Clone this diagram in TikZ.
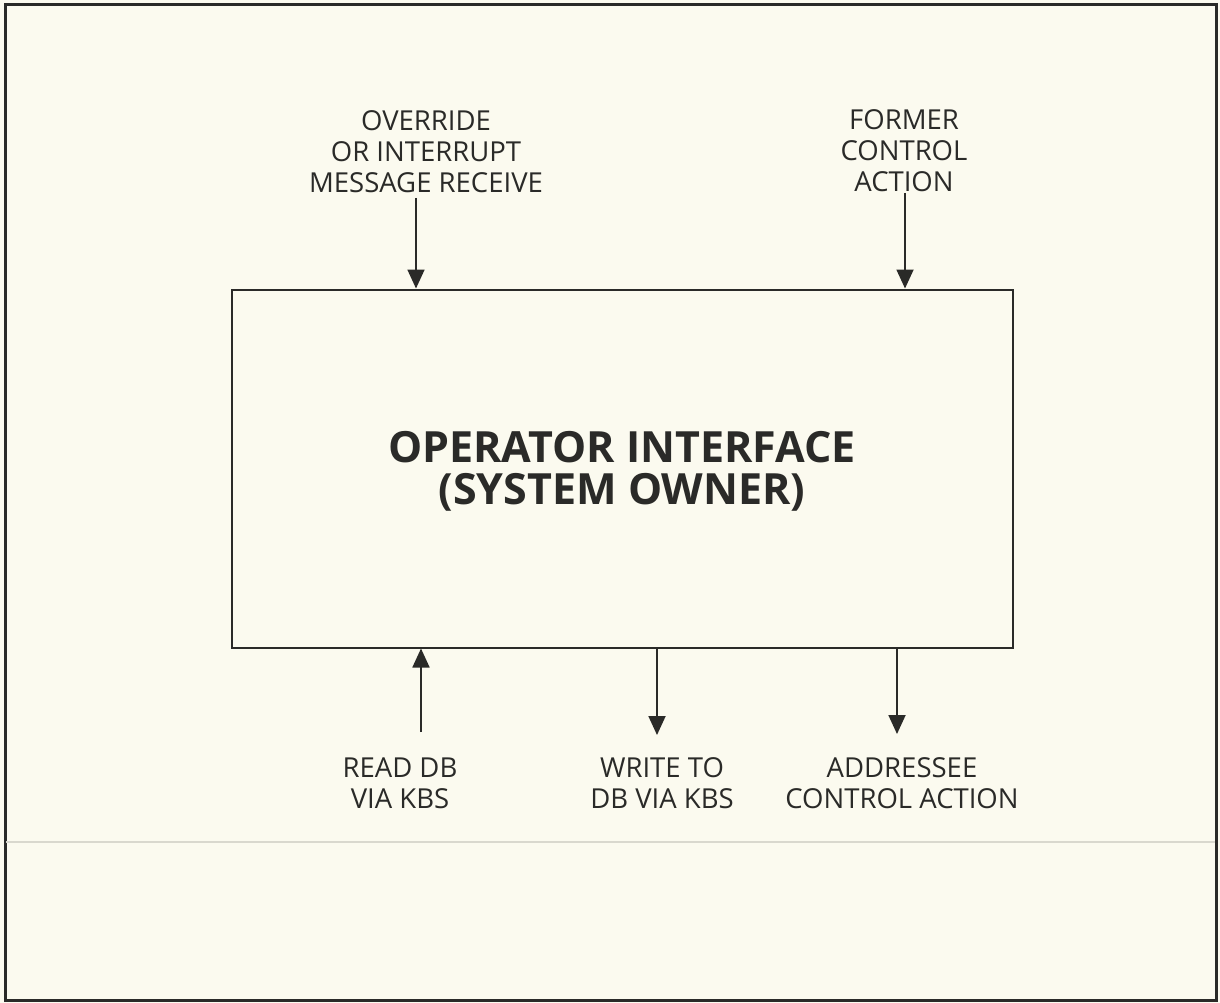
\documentclass[tikz,border=0pt]{standalone}
\usepackage{fontspec}
\setmainfont{Open Sans}
\usetikzlibrary{arrows.meta}
\definecolor{paper}{HTML}{FBFAEF}
\definecolor{ink}{HTML}{2A2A28}
\definecolor{faint}{HTML}{D9D8CE}
\tikzset{
  lbl/.style={align=center, font=\fontsize{27.5}{31}\selectfont, text=ink, inner sep=0pt},
  ttl/.style={align=center, font=\bfseries\fontsize{43}{42}\selectfont, text=ink, inner sep=0pt},
  arr/.style={draw=ink, line width=1.8pt, -{Triangle[length=19pt,width=17pt]}},
  blk/.style={draw=ink, line width=2pt, inner sep=0pt}
}
\begin{document}
\begin{tikzpicture}[x=1pt,y=-1pt]
\fill[paper] (0,0) rectangle (1220,1003);
\useasboundingbox (0,0) rectangle (1220,1003);
\draw[ink, line width=3pt] (5,5) rectangle (1216,1000);
\draw[faint, line width=2pt] (6,842) -- (1215,842);
\node[blk, minimum width=781pt, minimum height=358pt] (box) at (622.5,468.5) {};
\node[ttl] (title) at (622,471) {OPERATOR INTERFACE\\(SYSTEM OWNER)};
\node[lbl, anchor=base] (ovr) at (426,193) {OVERRIDE\\OR INTERRUPT\\MESSAGE RECEIVE};
\node[lbl, anchor=base] (fmr) at (904,192) {FORMER\\CONTROL\\ACTION};
\node[lbl, anchor=base] (rdb) at (400,808) {READ DB\\VIA KBS};
\node[lbl, anchor=base] (wdb) at (662,808) {WRITE TO\\DB VIA KBS};
\node[lbl, anchor=base] (adr) at (902,808) {ADDRESSEE\\CONTROL ACTION};
\coordinate (ovs) at (416,198);
\coordinate (fms) at (905,193);
\coordinate (rds) at (421,732);
\coordinate (wde) at (657,735);
\coordinate (ade) at (897,734);
\draw[arr] (ovs) -- (ovs |- box.north);
\draw[arr] (fms) -- (fms |- box.north);
\draw[arr] (rds) -- (rds |- box.south);
\draw[arr] (wde |- box.south) -- (wde);
\draw[arr] (ade |- box.south) -- (ade);
\end{tikzpicture}
\end{document}
